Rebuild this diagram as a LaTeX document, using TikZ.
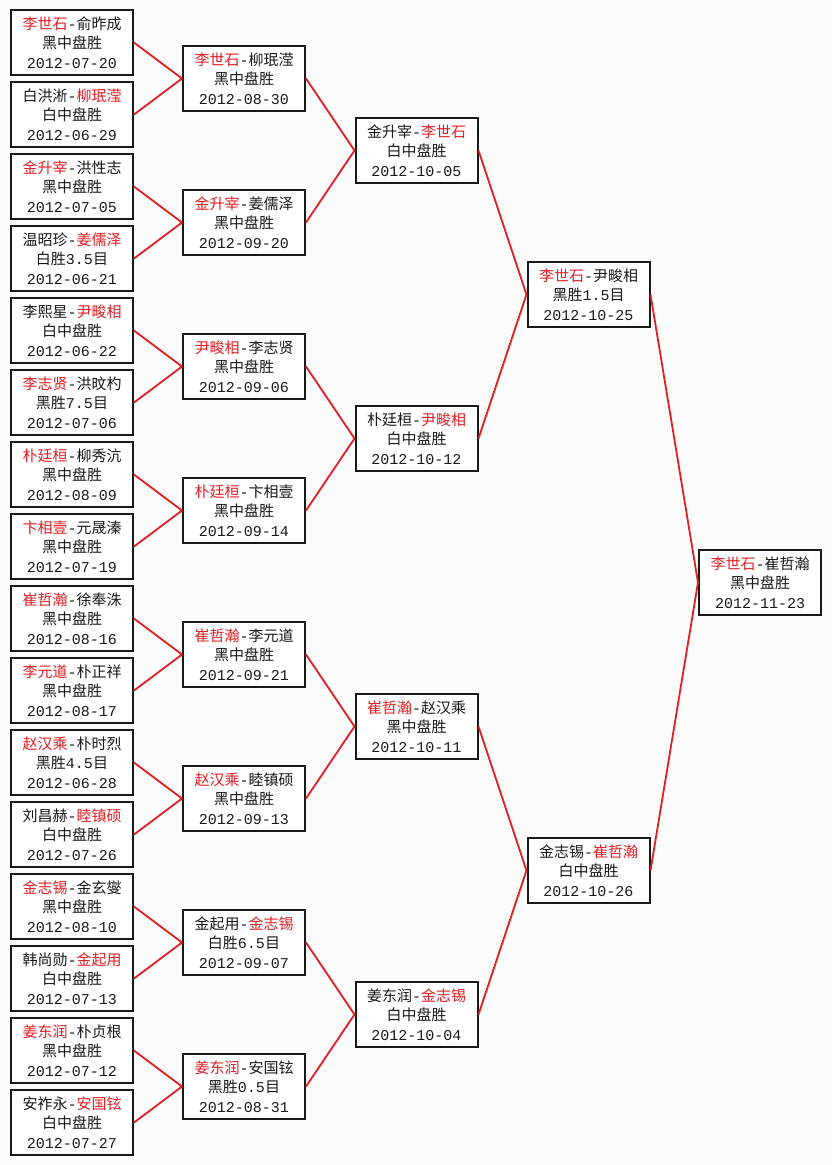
\documentclass[tikz,border=0pt]{standalone}
\usepackage{fontspec}
\newfontfamily\cjk{Noto Sans CJK SC}
\newfontfamily\mono{Liberation Mono}
\definecolor{wred}{RGB}{225,30,35}
\definecolor{ink}{RGB}{25,25,25}
\definecolor{bg}{RGB}{251,251,251}
\newcommand{\R}[1]{\textcolor{wred}{#1}}
\newcommand{\hy}{{\mono -}}
\newcommand{\dt}[1]{{\mono #1}}
\tikzset{
  game/.style={draw=ink, line width=2pt, fill=white, text=ink,
    minimum width=122pt, minimum height=65pt, inner sep=0pt, align=center,
    font=\cjk\fontsize{15}{19.5}\selectfont},
  link/.style={draw=wred, line width=1.8pt}
}
\begin{document}
\begin{tikzpicture}[x=1pt,y=-1pt]
\fill[bg] (0,0) rectangle (832,1165);
\useasboundingbox (0,0) rectangle (832,1165);
% column 1
\node[game] (a1) at (72,42.5) {\R{李世石}\hy 俞昨成\\黑中盘胜\\\dt{2012-07-20}};
\node[game] (a2) at (72,114.5) {白洪淅\hy\R{柳珉滢}\\白中盘胜\\\dt{2012-06-29}};
\node[game] (a3) at (72,186.5) {\R{金升宰}\hy 洪性志\\黑中盘胜\\\dt{2012-07-05}};
\node[game] (a4) at (72,258.5) {温昭珍\hy\R{姜儒泽}\\白胜\dt{3.5}目\\\dt{2012-06-21}};
\node[game] (a5) at (72,330.5) {李熙星\hy\R{尹畯相}\\白中盘胜\\\dt{2012-06-22}};
\node[game] (a6) at (72,402.5) {\R{李志贤}\hy 洪旼杓\\黑胜\dt{7.5}目\\\dt{2012-07-06}};
\node[game] (a7) at (72,474.5) {\R{朴廷桓}\hy 柳秀沆\\黑中盘胜\\\dt{2012-08-09}};
\node[game] (a8) at (72,546.5) {\R{卞相壹}\hy 元晟溱\\黑中盘胜\\\dt{2012-07-19}};
\node[game] (a9) at (72,618.5) {\R{崔哲瀚}\hy 徐奉洙\\黑中盘胜\\\dt{2012-08-16}};
\node[game] (a10) at (72,690.5) {\R{李元道}\hy 朴正祥\\黑中盘胜\\\dt{2012-08-17}};
\node[game] (a11) at (72,762.5) {\R{赵汉乘}\hy 朴时烈\\黑胜\dt{4.5}目\\\dt{2012-06-28}};
\node[game] (a12) at (72,834.5) {刘昌赫\hy\R{睦镇硕}\\白中盘胜\\\dt{2012-07-26}};
\node[game] (a13) at (72,906.5) {\R{金志锡}\hy 金玄燮\\黑中盘胜\\\dt{2012-08-10}};
\node[game] (a14) at (72,978.5) {韩尚勋\hy\R{金起用}\\白中盘胜\\\dt{2012-07-13}};
\node[game] (a15) at (72,1050.5) {\R{姜东润}\hy 朴贞根\\黑中盘胜\\\dt{2012-07-12}};
\node[game] (a16) at (72,1122.5) {安祚永\hy\R{安国铉}\\白中盘胜\\\dt{2012-07-27}};
% column 2
\node[game] (b1) at (244,78.5) {\R{李世石}\hy 柳珉滢\\黑中盘胜\\\dt{2012-08-30}};
\node[game] (b2) at (244,222.5) {\R{金升宰}\hy 姜儒泽\\黑中盘胜\\\dt{2012-09-20}};
\node[game] (b3) at (244,366.5) {\R{尹畯相}\hy 李志贤\\黑中盘胜\\\dt{2012-09-06}};
\node[game] (b4) at (244,510.5) {\R{朴廷桓}\hy 卞相壹\\黑中盘胜\\\dt{2012-09-14}};
\node[game] (b5) at (244,654.5) {\R{崔哲瀚}\hy 李元道\\黑中盘胜\\\dt{2012-09-21}};
\node[game] (b6) at (244,798.5) {\R{赵汉乘}\hy 睦镇硕\\黑中盘胜\\\dt{2012-09-13}};
\node[game] (b7) at (244,942.5) {金起用\hy\R{金志锡}\\白胜\dt{6.5}目\\\dt{2012-09-07}};
\node[game] (b8) at (244,1086.5) {\R{姜东润}\hy 安国铉\\黑胜\dt{0.5}目\\\dt{2012-08-31}};
% column 3
\node[game] (c1) at (416.5,150.5) {金升宰\hy\R{李世石}\\白中盘胜\\\dt{2012-10-05}};
\node[game] (c2) at (416.5,438.5) {朴廷桓\hy\R{尹畯相}\\白中盘胜\\\dt{2012-10-12}};
\node[game] (c3) at (416.5,726.5) {\R{崔哲瀚}\hy 赵汉乘\\黑中盘胜\\\dt{2012-10-11}};
\node[game] (c4) at (416.5,1014.5) {姜东润\hy\R{金志锡}\\白中盘胜\\\dt{2012-10-04}};
% column 4
\node[game] (d1) at (588.5,294.5) {\R{李世石}\hy 尹畯相\\黑胜\dt{1.5}目\\\dt{2012-10-25}};
\node[game] (d2) at (588.5,870.5) {金志锡\hy\R{崔哲瀚}\\白中盘胜\\\dt{2012-10-26}};
% column 5
\node[game] (e) at (760,582.5) {\R{李世石}\hy 崔哲瀚\\黑中盘胜\\\dt{2012-11-23}};
% links
\foreach \p in {1,...,8}{
  \pgfmathtruncatemacro{\ca}{2*\p-1}
  \pgfmathtruncatemacro{\cb}{2*\p}
  \draw[link] (a\ca.east) -- (b\p.west) -- (a\cb.east);
}
\foreach \p in {1,...,4}{
  \pgfmathtruncatemacro{\ca}{2*\p-1}
  \pgfmathtruncatemacro{\cb}{2*\p}
  \draw[link] (b\ca.east) -- (c\p.west) -- (b\cb.east);
}
\draw[link] (c1.east) -- (d1.west) -- (c2.east);
\draw[link] (c3.east) -- (d2.west) -- (c4.east);
\draw[link] (d1.east) -- (e.west) -- (d2.east);
\end{tikzpicture}
\end{document}
